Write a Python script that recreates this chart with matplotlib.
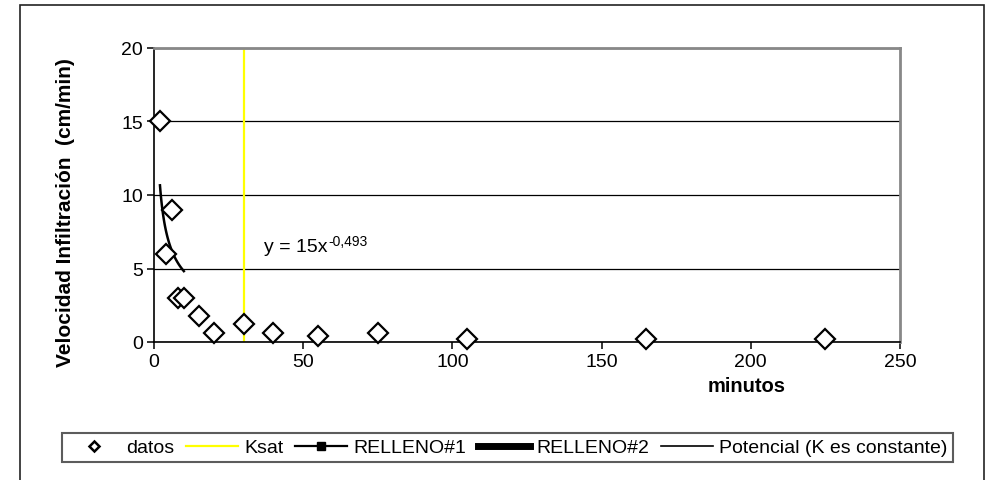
import matplotlib.pyplot as plt
import matplotlib.patches as patches
import numpy as np

plt.rcParams['font.family'] = ['Liberation Sans', 'DejaVu Sans']

# Datos de infiltracion
tiempo = [2, 4, 6, 8, 10, 15, 20, 30, 40, 55, 75, 105, 165, 225]
velocidad = [15, 6, 9, 3, 3, 1.8, 0.6, 1.2, 0.6, 0.4, 0.6, 0.2, 0.2, 0.2]

ksat_x = 30
# Ajuste potencial y = a * x^b
coef_a = 15
coef_b = -0.493
ajuste_x = [2, 10]

fig = plt.figure(figsize=(9.85, 4.81), dpi=100)
ax = fig.add_axes([154 / 985, 1 - 343 / 481, 746 / 985, 294 / 481])

# marco exterior del grafico
fig.patches.append(patches.Rectangle((20 / 985, -0.05), 964 / 985, 1.05 - 6 / 481,
                                     transform=fig.transFigure, fill=False,
                                     edgecolor='#222222', linewidth=1.2))

ax.set_xlim(0, 250)
ax.set_ylim(0, 20)
ax.set_xticks(range(0, 251, 50))
ax.set_yticks(range(0, 21, 5))
ax.yaxis.grid(True, color='black', linewidth=0.9)
ax.set_axisbelow(True)

for s in ['top', 'right']:
    ax.spines[s].set_color('#888888')
    ax.spines[s].set_linewidth(2)
for s in ['left', 'bottom']:
    ax.spines[s].set_color('black')
    ax.spines[s].set_linewidth(1.2)
ax.tick_params(direction='out', length=5, width=1.1, labelsize=14, colors='black', pad=3)

ax.axvline(ksat_x, color='#ffff00', linewidth=1.6, label='Ksat', zorder=2)

xs = np.linspace(ajuste_x[0], ajuste_x[1], 60)
ax.plot(xs, coef_a * xs ** coef_b, color='black', linewidth=1.8, zorder=3)

ax.plot(tiempo, velocidad, linestyle='none', marker='D', markersize=10,
        markerfacecolor='white', markeredgecolor='black', markeredgewidth=1.6,
        zorder=4, clip_on=False)

# ecuacion del ajuste, exponente como superindice
eq = ax.text(37, 6.5, 'y = %dx' % coef_a, fontsize=14, va='center')
ax.annotate(('%.3f' % coef_b).replace('.', ','), xy=(1.0, 1.25), xycoords=eq,
            fontsize=10, ha='left', va='top')

ax.set_ylabel('Velocidad Infiltración  (cm/min)', fontsize=15, fontweight='bold')
ax.yaxis.set_label_coords(-0.106, 0.442)
ax.text(0.795, -0.148, 'minutos', transform=ax.transAxes, fontsize=14.5,
        fontweight='bold', ha='center', va='center')

# entradas de la leyenda
h_datos, = ax.plot([], [], linestyle='none', marker='D', markersize=5,
                   markerfacecolor='white', markeredgecolor='black', markeredgewidth=1.8)
h_ksat, = ax.plot([], [], color='#ffff00', linewidth=1.6)
h_r1, = ax.plot([], [], color='black', linewidth=1.6, marker='s', markersize=6)
h_r2, = ax.plot([], [], color='black', linewidth=5)
h_pot, = ax.plot([], [], color='black', linewidth=1.2)

leg = fig.legend([h_datos, h_ksat, h_r1, h_r2, h_pot],
                 ['datos', 'Ksat', 'RELLENO#1', 'RELLENO#2', 'Potencial (K es constante)'],
                 loc='center', bbox_to_anchor=(507.5 / 985, 1 - 448.5 / 481),
                 ncol=5, fontsize=14, frameon=True, fancybox=False,
                 handlelength=2.7, handletextpad=0.3, columnspacing=0.6,
                 borderpad=0.3)
leg.get_frame().set_edgecolor('#333333')
leg.get_frame().set_linewidth(1.5)

fig.savefig('out.png', dpi=100)
